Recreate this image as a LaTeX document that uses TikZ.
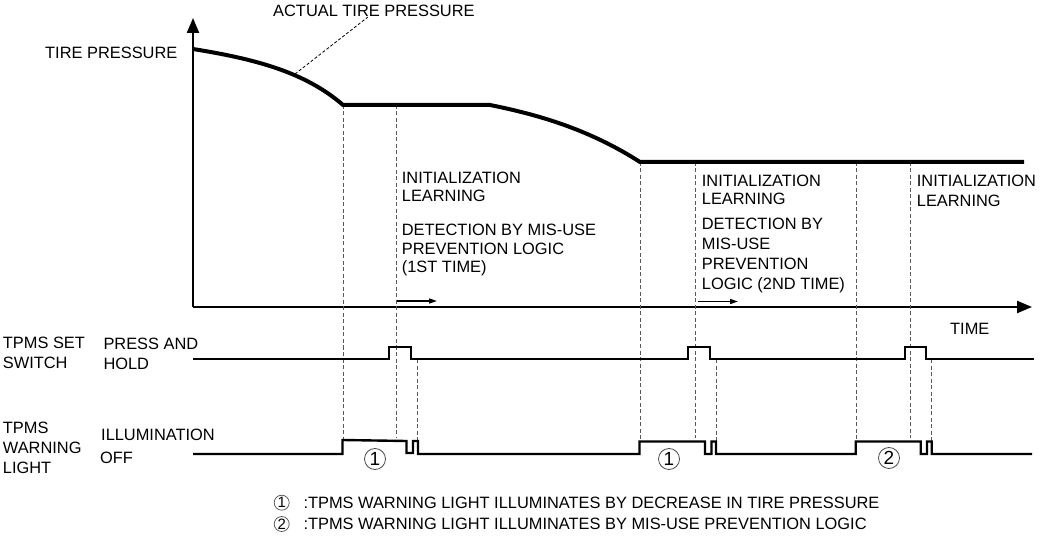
\documentclass[tikz,border=0pt]{standalone}
\usepackage{fontspec}
\setmainfont{Liberation Sans}
\usetikzlibrary{arrows.meta}
\tikzset{
    axis/.style={line width=2.2pt, -{Triangle[length=15pt, width=12pt]}},
    pressure/.style={line width=4pt, line join=round},
    guide/.style={draw=black!65, line width=1pt, dash pattern=on 4pt off 2.5pt},
    leader/.style={draw=black, line width=0.8pt, dash pattern=on 3pt off 2pt},
    signal/.style={line width=2.4pt, line join=miter},
    fwd/.style={line width=1.5pt, -{Triangle[length=8pt, width=5pt]}},
    lbl/.style={inner sep=0pt, anchor=north west, align=left, font=\fontsize{16.4}{#1}\selectfont},
    lbl/.default=20,
    num/.style={inner sep=0pt, circle, draw=black!70, line width=0.8pt, minimum size=21pt, font=\fontsize{19}{19}\selectfont},
    keynum/.style={inner sep=0pt, circle, draw=black!70, line width=0.7pt, minimum size=15pt, font=\fontsize{15}{15}\selectfont},
}

\begin{document}
\begin{tikzpicture}[x=1pt, y=-1pt]
        \useasboundingbox (0,0) rectangle (1044,537);
        % axes
        \draw[axis] (193,307) -- (193,18);
        \draw[axis] (193,307) -- (1032,307);
        % dashed guides
        \foreach \x/\top/\bot in {343/105/440, 396/105/438, 417/359/441, 640/162/441, 695/162/438, 716/359/441, 856/162/441, 910.7/162/438, 931.7/359/441}
            \draw[guide] (\x,\top) -- (\x,\bot);
        % tire pressure
        \draw[pressure] (193,49) .. controls (255,59) and (305,72) .. (343,105) -- (490,105)
            .. controls (540,115) and (590,130) .. (640,162) -- (1024,162);
        % set switch
        \draw[signal] (193,359) -- (389,359) -- (389,347) -- (411,347) -- (411,359) -- (688,359) -- (688,347) -- (710,347) -- (710,359)
            -- (905,359) -- (905,347) -- (926,347) -- (926,359) -- (1034,359);
        % warning light
        \draw[signal] (193,454) -- (342.5,454) -- (342.5,440) -- (406.5,441) -- (406.5,453) -- (413,453) -- (413,441) -- (418,441) -- (418,454)
            -- (639.5,454) -- (639.5,441.5) -- (705,441.5) -- (705,454) -- (711.5,454) -- (711.5,441.5) -- (716,441.5) -- (716,454)
            -- (855.7,454) -- (855.7,441.5) -- (920.7,441.5) -- (920.7,454) -- (927,454) -- (927,441.5) -- (931.7,441.5) -- (931.7,454) -- (1032,454);
        \draw[fwd] (397,301) -- (437,301);
        \draw[fwd] (698,301.5) -- (738,301.5);
        % labels
        \node[lbl] (actual) at (273,5) {ACTUAL TIRE PRESSURE};
        \coordinate (curvept) at (295,74);
        \draw[leader] (curvept) -- ([xshift=-6pt]actual.south);
        \node[lbl] (ylabel) at (45,46.7) {TIRE PRESSURE};
        \node[lbl] (xlabel) at (950,323) {TIME};
        \node[lbl=18.5] (init1) at (401.7,171.7) {INITIALIZATION\\LEARNING};
        \node[lbl=18.5] (det1) at (401.7,224) {DETECTION BY MIS-USE\\PREVENTION LOGIC\\(1ST TIME)};
        \node[lbl=18.3] (init2) at (701.7,175) {INITIALIZATION\\LEARNING};
        \node[lbl] (det2) at (701.7,218) {DETECTION BY\\MIS-USE\\PREVENTION\\LOGIC (2ND TIME)};
        \node[lbl] (init3) at (916.7,175) {INITIALIZATION\\LEARNING};
        \node[lbl] (swname) at (2.7,336.7) {TPMS SET\\SWITCH};
        \node[lbl] (swstate) at (103.3,338) {PRESS AND\\HOLD};
        \node[lbl] (wlname) at (2.7,421.7) {TPMS\\WARNING\\LIGHT};
        \node[lbl] (wlon) at (101,429.3) {ILLUMINATION};
        \node[lbl] (wloff) at (100,451.7) {OFF};
        % numbered marks
        \node[num] (mk1) at (375,459) {1};
        \node[num] (mk2) at (669,459) {1};
        \node[num] (mk3) at (889,458) {2};
        % key
        \node[keynum] (key1) at (281.7,502.7) {1};
        \node[lbl] (keytext1) at (303.3,496.7) {:TPMS WARNING LIGHT ILLUMINATES BY DECREASE IN TIRE PRESSURE};
        \node[keynum] (key2) at (281.7,524) {2};
        \node[lbl] (keytext2) at (303.3,518) {:TPMS WARNING LIGHT ILLUMINATES BY MIS-USE PREVENTION LOGIC};
    \end{tikzpicture}
\end{document}
